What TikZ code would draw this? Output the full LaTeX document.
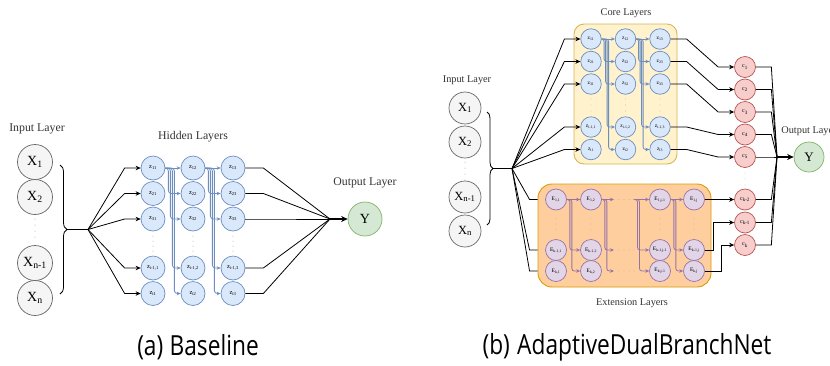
\documentclass[tikz,border=0pt]{standalone}
\usepackage{graphicx}
\usepackage{fontspec}
\setmainfont{Liberation Serif}
\newfontfamily\capfont{Open Sans}
\usetikzlibrary{arrows.meta,decorations.pathreplacing,calc}

\definecolor{inpfill}{HTML}{F5F5F5}
\definecolor{inpdraw}{HTML}{666666}
\definecolor{hidfill}{HTML}{DAE8FC}
\definecolor{hiddraw}{HTML}{6C8EBF}
\definecolor{outfill}{HTML}{D5E8D4}
\definecolor{outdraw}{HTML}{82B366}
\definecolor{cfill}{HTML}{F8CECC}
\definecolor{cdraw}{HTML}{B85450}
\definecolor{efill}{HTML}{E1D5E7}
\definecolor{edraw}{HTML}{9673A6}
\definecolor{corefill}{HTML}{FFF2CC}
\definecolor{coredraw}{HTML}{D6B656}
\definecolor{extfill}{HTML}{FFCE9F}
\definecolor{extdraw}{HTML}{D79B00}
\definecolor{txtgrey}{HTML}{333333}
\definecolor{dotgrey}{HTML}{999999}

\newcommand{\captext}[1]{\scalebox{1}[1.22]{#1}}

\tikzset{
  neuron/.style={circle, inner sep=0pt, line width=0.7pt, text=black},
  inpL/.style={neuron, draw=inpdraw, fill=inpfill, minimum size=35pt, font=\fontsize{14}{14}\selectfont},
  inpR/.style={neuron, draw=inpdraw, fill=inpfill, minimum size=32pt, font=\fontsize{12.5}{13}\selectfont},
  hidL/.style={neuron, draw=hiddraw, fill=hidfill, minimum size=24pt, font=\fontsize{6.5}{7}\selectfont},
  hidR/.style={neuron, draw=hiddraw, fill=hidfill, minimum size=20.5pt, font=\fontsize{5.5}{6}\selectfont},
  extn/.style={neuron, draw=edraw, fill=efill, minimum size=21pt, font=\fontsize{5.5}{6}\selectfont},
  cnode/.style={neuron, draw=cdraw, fill=cfill, minimum size=21pt, font=\fontsize{6}{6}\selectfont},
  outL/.style={neuron, draw=outdraw, fill=outfill, minimum size=34pt, font=\fontsize{14}{14}\selectfont},
  outR/.style={neuron, draw=outdraw, fill=outfill, minimum size=30pt, font=\fontsize{13}{13}\selectfont},
  corebox/.style={draw=coredraw, fill=corefill, line width=0.9pt, rounded corners=10pt, inner sep=0pt},
  extbox/.style={draw=extdraw, fill=extfill, line width=0.9pt, rounded corners=14pt, inner sep=0pt},
  lblL/.style={text=txtgrey, font=\fontsize{11.8}{12}\selectfont},
  lblR/.style={text=txtgrey, font=\fontsize{10.3}{11}\selectfont},
  caption/.style={text=black, inner sep=0pt, font=\capfont\fontsize{22.7}{26}\selectfont},
  conn/.style={draw=black, line width=0.8pt},
  arr/.style={conn, -{Stealth[length=5pt,width=4.5pt]}},
  fat/.style={draw=black, line width=1.5pt},
  fatarr/.style={fat, -{Stealth[length=6.5pt,width=6pt]}},
  barrow/.style={draw=hiddraw, line width=0.8pt, -{Stealth[length=4pt,width=3.5pt]}, rounded corners=4pt},
  parrow/.style={draw=edraw, line width=0.8pt, -{Stealth[length=4pt,width=3.5pt]}, rounded corners=4pt},
  bracestyle/.style={draw=black, line width=0.8pt, decorate},
}

\begin{document}
\begin{tikzpicture}[x=1pt, y=-1pt]
\useasboundingbox (0,0) rectangle (830,365);

% ================= (a) Baseline =================
\node[lblL] at (37,129) {Input Layer};
\node[inpL] (xa1) at (35,162) {X\textsubscript{1}};
\node[inpL] (xa2) at (35,197) {X\textsubscript{2}};
\node[inpL] (xa3) at (35,263) {X\textsubscript{n-1}};
\node[inpL] (xa4) at (35,298) {X\textsubscript{n}};
\foreach \y in {219,225,231,237} \fill[dotgrey] (35,\y) circle[radius=0.5pt];

\draw[bracestyle, decoration={brace, amplitude=7pt}] (60,165) -- (60,294);
\coordinate (lbrace) at (67,229.5);
\coordinate (lhub) at (88,229.5);
\draw[fat] (lbrace) -- (lhub);

\node[lblL] at (193,137) {Hidden Layers};
\foreach \c/\x in {1/153,2/193,3/233} {
  \foreach \r/\y/\s in {1/168/1\c, 2/193.5/2\c, 3/219/3\c, 4/268/{i-1,\c}, 5/293.5/i\c} {
    \node[hidL] (h\r\c) at (\x,\y) {z\textsubscript{\s}};
  }
  \foreach \y in {236,241,246,251} \fill[dotgrey] (\x,\y) circle[radius=0.5pt];
}

% inputs fan out to the first hidden column
\foreach \r in {1,...,5}
  \draw[arr] (lhub) -- ($(h\r1.west)+(-16,0)$) -- (h\r1.west);

% skip connections between hidden columns
\foreach \a/\b in {1/2,2/3} {
  \draw[barrow] (h1\a) -- (h1\b);
  \foreach \r/\d in {2/3,3/5,4/7,5/9}
    \draw[barrow, rounded corners=3pt] (h1\a.east) -- ++(\d,0) |- (h\r\b.west);
}

% last hidden column gathers into the output
\node[lblL] at (365,183) {Output Layer};
\node[outL] (ya) at (365,219) {Y};
\coordinate (lout) at (330,219);
\foreach \r in {1,...,5}
  \draw[conn] (h\r3.east) -- ++(18,0) -- (lout);
\draw[fatarr] (lout) -- (ya.west);

\node[caption] at (198,347.5) {\captext{(a)\hspace{0.28em}Baseline}};

% ================= (b) AdaptiveDualBranchNet =================
\node[lblR] at (467,80) {Input Layer};
\node[inpR] (xb1) at (465,108) {X\textsubscript{1}};
\node[inpR] (xb2) at (465,142) {X\textsubscript{2}};
\node[inpR] (xb3) at (465,197) {X\textsubscript{n-1}};
\node[inpR] (xb4) at (465,231) {X\textsubscript{n}};
\foreach \y in {162,168,174,180} \fill[dotgrey] (465,\y) circle[radius=0.5pt];

\draw[bracestyle, decoration={brace, amplitude=6pt}] (487,112) -- (487,225);
\coordinate (rbrace) at (493,168.5);
\coordinate (rhub) at (512,168.5);
\draw[conn, line width=1pt] (rbrace) -- (rhub);

% core branch
\node[corebox, minimum width=103pt, minimum height=140pt] (core) at (625.5,94) {};
\node[lblR] at (626,13) {Core Layers};
\foreach \c/\x in {1/591,2/625.5,3/660} {
  \foreach \r/\y/\s in {1/39/1\c, 2/61.5/2\c, 3/84/3\c, 4/127/{i-1,\c}, 5/149.5/i\c} {
    \node[hidR] (k\r\c) at (\x,\y) {z\textsubscript{\s}};
  }
  \foreach \y in {99,105,111} \fill[dotgrey] (\x,\y) circle[radius=0.45pt];
}
\foreach \a/\b in {1/2,2/3} {
  \draw[barrow] (k1\a) -- (k1\b);
  \foreach \r/\d in {2/2.5,3/4,4/5.5,5/7}
    \draw[barrow, rounded corners=2.5pt] (k1\a.east) -- ++(\d,0) |- (k\r\b.west);
}

% extension branch
\node[extbox, minimum width=173pt, minimum height=103pt] (ext) at (624.5,235.5) {};
\node[lblR] at (632,303) {Extension Layers};
\foreach \c/\x/\s in {1/556/1, 2/591/2, 3/660/{j-1}, 4/694/j} {
  \node[extn] (e1\c) at (\x,199.5) {E\textsubscript{1,\s}};
  \node[extn] (e2\c) at (\x,250) {E\textsubscript{k-1,\s}};
  \node[extn] (e3\c) at (\x,271) {E\textsubscript{k,\s}};
  \foreach \y in {218,224,230} \fill[dotgrey] (\x,\y) circle[radius=0.45pt];
}
\coordinate (da1) at (614,199.5);
\coordinate (da2) at (614,250);
\coordinate (da3) at (614,271);
\coordinate (db1) at (636,199.5);
\foreach \y in {199.5,250,271}
  \foreach \x in {619,624,629,634} \fill[dotgrey] (\x,\y) circle[radius=0.45pt];

\draw[parrow] (e11) -- (e12);
\draw[parrow, rounded corners=2.5pt] (e11.east) -- ++(3,0) |- (e22.west);
\draw[parrow, rounded corners=2.5pt] (e11.east) -- ++(5,0) |- (e32.west);
\draw[parrow] (e12.east) -- (da1);
\draw[parrow, rounded corners=2.5pt] (e12.east) -- ++(3,0) |- (da2);
\draw[parrow, rounded corners=2.5pt] (e12.east) -- ++(5,0) |- (da3);
\draw[parrow] (db1) -- (e13.west);
\draw[parrow, rounded corners=2.5pt] (db1) -- ++(1.5,0) |- (e23.west);
\draw[parrow, rounded corners=2.5pt] (db1) -- ++(3.5,0) |- (e33.west);
\draw[parrow] (e13) -- (e14);
\draw[parrow, rounded corners=2.5pt] (e13.east) -- ++(3,0) |- (e24.west);
\draw[parrow, rounded corners=2.5pt] (e13.east) -- ++(5,0) |- (e34.west);

% inputs feed both branches
\foreach \r in {1,...,5}
  \draw[arr] (rhub) -- ($(k\r1.west)+(-16,0)$) -- (k\r1.west);
\foreach \r in {1,2,3}
  \draw[conn] (rhub) -- ($(ext.west |- e\r1)+(-8,0)$) -- (ext.west |- e\r1);

% combination nodes
\foreach \i/\y/\s in {1/67/1, 2/89.5/2, 3/112/3, 4/134.5/4, 5/157/5, 6/199.5/{k-2}, 7/222.5/{k-1}, 8/245/k}
  \node[cnode] (c\i) at (745,\y) {c\textsubscript{\s}};
\foreach \y in {173,179,185} \fill[dotgrey] (745,\y) circle[radius=0.45pt];

\foreach \r in {1,...,5}
  \draw[arr] (k\r3.east) -- ++(16,0) -- ($(c\r.west)+(-16,0)$) -- (c\r.west);
\draw[arr] (e14.east) -- (c6.west);
\draw[arr] (e24.east) -- ++(8.5,0) |- (c7.west);
\draw[arr] (e34.east) -- ++(16.5,0) |- (c8.west);

% output
\node[lblR] at (809,131) {Output Layer};
\node[outR] (yb) at (809,157) {Y};
\coordinate (rout) at (777,157);
\foreach \i in {1,...,8}
  \draw[conn] (c\i.east) -- ++(15.5,0) -- (rout);
\draw[fatarr] (rout) -- (yb.west);

\node[caption] at (627,347.5) {\captext{(b)\hspace{0.32em}AdaptiveDualBranchNet}};
\end{tikzpicture}
\end{document}
